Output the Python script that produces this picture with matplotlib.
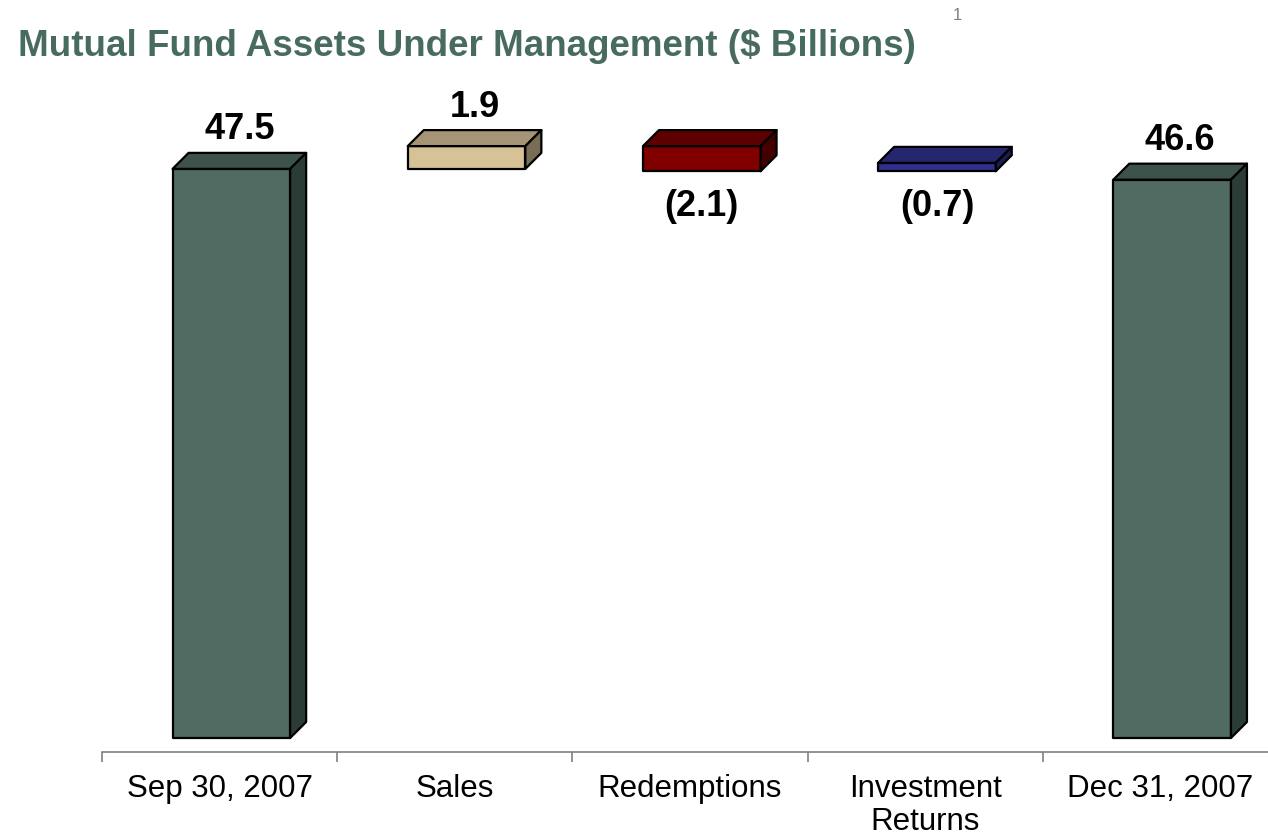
import matplotlib
matplotlib.use("Agg")
import matplotlib.pyplot as plt
from matplotlib.patches import Polygon

plt.rcParams['font.family'] = ['Liberation Sans', 'DejaVu Sans']

# data
categories = ["Sep 30, 2007", "Sales", "Redemptions", "Investment\nReturns", "Dec 31, 2007"]
heights = [47.5, 1.9, 2.1, 0.7, 46.6]
bottoms = [0, 47.5, 47.3, 47.3, 0]
labels = ["47.5", "1.9", "(2.1)", "(0.7)", "46.6"]
negative = [False, False, True, True, False]

# face colours (front, top, side)
front_colors = ["#4F6B62", "#D6C294", "#800000", "#2F2F8F", "#4F6B62"]
top_colors = ["#3C524B", "#A69477", "#5E0000", "#262670", "#3C524B"]
side_colors = ["#2B3B36", "#7A6D56", "#440000", "#1C1C52", "#2B3B36"]

W, H = 1268, 839
fig = plt.figure(figsize=(W / 100, H / 100), dpi=100)
ax = fig.add_axes([102 / W, (H - 752) / H, (1278 - 102) / W, (752 - 91) / H])
ax.set_xlim(-0.5, 4.5)
ax.set_ylim(-1.17, 54)

# 3d look
left_off, bar_w = -0.2, 0.5
dx, dy = 0.068, 1.336

for i, (b, h) in enumerate(zip(bottoms, heights)):
    x0 = i + left_off
    x1 = x0 + bar_w
    y0, y1 = b, b + h
    front = Polygon([(x0, y0), (x1, y0), (x1, y1), (x0, y1)], closed=True,
                    facecolor=front_colors[i], edgecolor="black", lw=1.6, zorder=3)
    top = Polygon([(x0, y1), (x1, y1), (x1 + dx, y1 + dy), (x0 + dx, y1 + dy)], closed=True,
                  facecolor=top_colors[i], edgecolor="black", lw=1.6, zorder=3)
    side = Polygon([(x1, y0), (x1 + dx, y0 + dy), (x1 + dx, y1 + dy), (x1, y1)], closed=True,
                   facecolor=side_colors[i], edgecolor="black", lw=1.6, zorder=3)
    for p in (front, top, side):
        p.set_joinstyle("round")
        ax.add_patch(p)

    if negative[i]:
        ax.annotate(labels[i], (x0 + bar_w / 2, y0), xytext=(0, -13), textcoords="offset points",
                    ha="center", va="top", fontsize=26, fontweight="bold", annotation_clip=False)
    else:
        ax.annotate(labels[i], (x0 + (bar_w + dx) / 2, y1 + dy), xytext=(0, 4), textcoords="offset points",
                    ha="center", va="bottom", fontsize=26, fontweight="bold", annotation_clip=False)

# axis
for s in ["top", "right", "left"]:
    ax.spines[s].set_visible(False)
ax.spines["bottom"].set_color("#808080")
ax.spines["bottom"].set_linewidth(1.2)
ax.set_yticks([])
ax.set_xticks(range(len(categories)))
ax.set_xticklabels(categories, fontsize=22.5, linespacing=1.1)
ax.tick_params(axis="x", which="major", length=0, pad=16)
ax.set_xticks([i - 0.5 for i in range(len(categories) + 1)], minor=True)
ax.tick_params(axis="x", which="minor", length=7.5, width=1.2, color="#808080", direction="out")

fig.text(18 / W, 1 - 47 / H, "Mutual Fund Assets Under Management ($ Billions)",
         fontsize=26.5, fontweight="bold", color="#476B60", ha="left", va="center")
fig.text(957 / W, 1 - 16 / H, "1", fontsize=12, color="#808080", ha="center", va="center")

fig.savefig("out.png", dpi=100)
